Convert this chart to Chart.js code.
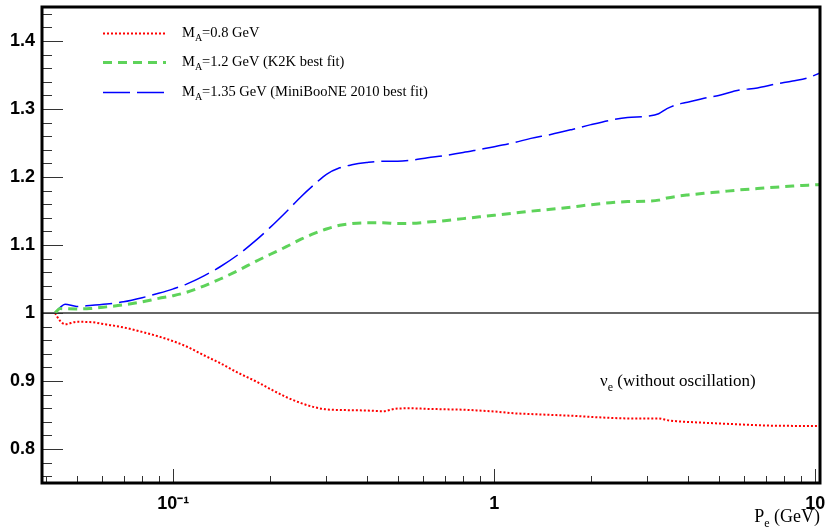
<!DOCTYPE html>
<html lang="en">
<head>
<meta charset="UTF-8" />
<title>Axial mass ratio vs electron momentum</title>
<script src="https://cdn.jsdelivr.net/npm/chart.js"></script>
<style>
  body { margin: 0; background: #fff; }
  #wrap { width: 827px; height: 529px; }
</style>
</head>
<body>
<div id="wrap"><canvas id="ratioChart" width="827" height="529"></canvas></div>
<script>
// electron momentum, GeV
const momentum = [
  0.0428, 0.0444, 0.046, 0.050, 0.055, 0.062, 0.070, 0.080, 0.090, 0.100,
  0.110, 0.125, 0.140, 0.160, 0.180, 0.200, 0.225, 0.250, 0.275, 0.300,
  0.330, 0.360, 0.400, 0.450, 0.500, 0.550, 0.620, 0.700, 0.800, 0.900,
  1.00, 1.15, 1.30, 1.50, 1.75, 2.00, 2.30, 2.60, 3.00, 3.25,
  3.45, 3.70, 4.00, 4.50, 5.00, 5.80, 6.60, 7.50, 8.50, 9.50, 10.34
];
// MA = 0.8 GeV
const ratioMA08 = [
  1.000, 0.9885, 0.9835, 0.9870, 0.9867, 0.9830, 0.9788, 0.9722, 0.9655, 0.9585,
  0.9507, 0.9375, 0.9262, 0.9115, 0.9000, 0.8885, 0.8763, 0.8675, 0.8615, 0.8582,
  0.8574, 0.8570, 0.8566, 0.8556, 0.8596, 0.8598, 0.8590, 0.8584, 0.8578, 0.8565,
  0.8552, 0.8525, 0.8514, 0.8502, 0.8488, 0.8472, 0.8458, 0.8450, 0.8450, 0.8450,
  0.8425, 0.8408, 0.8398, 0.8386, 0.8375, 0.8362, 0.8350, 0.8342, 0.8340, 0.8339, 0.8338
];
// MA = 1.2 GeV (K2K)
const ratioMA12 = [
  1.000, 1.0065, 1.0062, 1.0060, 1.0065, 1.0090, 1.0120, 1.0165, 1.0215, 1.0255,
  1.0305, 1.0400, 1.0500, 1.0630, 1.0755, 1.0860, 1.0975, 1.1085, 1.1170, 1.1235,
  1.1290, 1.1315, 1.1327, 1.1327, 1.1316, 1.1318, 1.1337, 1.1358, 1.1388, 1.1414,
  1.1437, 1.1468, 1.1497, 1.1525, 1.1560, 1.1593, 1.1622, 1.1638, 1.1645, 1.1660,
  1.1690, 1.1715, 1.1735, 1.1760, 1.1780, 1.1810, 1.1830, 1.1850, 1.1868, 1.1880, 1.1890
];
// MA = 1.35 GeV (MiniBooNE)
const ratioMA135 = [
  1.000, 1.008, 1.013, 1.0097, 1.0110, 1.0132, 1.0165, 1.0225, 1.0290, 1.0355,
  1.0425, 1.0550, 1.0680, 1.0865, 1.1060, 1.1255, 1.1490, 1.1710, 1.1890, 1.2040,
  1.2135, 1.2180, 1.2212, 1.2232, 1.2232, 1.2245, 1.2282, 1.2315, 1.2360, 1.2405,
  1.2445, 1.2505, 1.2568, 1.2625, 1.2700, 1.2770, 1.2835, 1.2875, 1.2895, 1.2930,
  1.3005, 1.3065, 1.3100, 1.3158, 1.3200, 1.3278, 1.3310, 1.3365, 1.3412, 1.3460, 1.3530
];

const xTickValues = [0.1, 1, 10];
const xTickLabels = ["10\u207B\u00B9", "1", "10"];
const yTickValues = [0.8, 0.9, 1, 1.1, 1.2, 1.3, 1.4];
const legendTexts = [
  ["M", "A", "=0.8 GeV"],
  ["M", "A", "=1.2 GeV (K2K best fit)"],
  ["M", "A", "=1.35 GeV (MiniBooNE 2010 best fit)"]
];

const X_MIN = 0.039, X_MAX = 10.34;
const Y_MIN = 0.75, Y_MAX = 1.45;

function toPoints(values) {
  return momentum.map((p, i) => ({ x: p, y: values[i] }));
}

// text with one subscript part: [base, sub, rest]
function drawSubText(ctx, x, y, parts, size, align) {
  const main = size + "px 'Liberation Serif', 'Times New Roman', serif";
  const small = Math.round(size * 0.68) + "px 'Liberation Serif', 'Times New Roman', serif";
  ctx.font = main;
  const w0 = ctx.measureText(parts[0]).width;
  const w2 = ctx.measureText(parts[2]).width;
  ctx.font = small;
  const w1 = ctx.measureText(parts[1]).width;
  let x0 = align === "right" ? x - (w0 + w1 + w2) : x;
  ctx.textAlign = "left";
  ctx.textBaseline = "alphabetic";
  ctx.fillStyle = "#000";
  ctx.font = main;
  ctx.fillText(parts[0], x0, y);
  ctx.font = small;
  ctx.fillText(parts[1], x0 + w0, y + size * 0.28);
  ctx.font = main;
  ctx.fillText(parts[2], x0 + w0 + w1, y);
}

const decorations = {
  id: "decorations",
  afterDraw(chart) {
    const { ctx, chartArea: a, scales } = chart;
    const x = scales.x, y = scales.y;
    ctx.save();

    // ticks inside the frame
    ctx.strokeStyle = "#333";
    ctx.lineWidth = 1;
    ctx.setLineDash([]);
    ctx.beginPath();
    for (let e = -2; e <= 1; e++) {
      for (let m = 1; m <= 9; m++) {
        const v = m * Math.pow(10, e);
        if (v < X_MIN || v > X_MAX) continue;
        const px = Math.round(x.getPixelForValue(v)) + 0.5;
        const len = m === 1 ? 14 : 7;
        ctx.moveTo(px, a.bottom);
        ctx.lineTo(px, a.bottom - len);
      }
    }
    for (let k = 38; k <= 72; k++) {
      const v = k * 0.02;
      const py = Math.round(y.getPixelForValue(v)) + 0.5;
      const len = k % 5 === 0 ? 21 : 10;
      ctx.moveTo(a.left, py);
      ctx.lineTo(a.left + len, py);
    }
    ctx.stroke();

    // frame
    ctx.strokeStyle = "#000";
    ctx.lineWidth = 3;
    ctx.strokeRect(a.left, a.top, a.right - a.left, a.bottom - a.top);

    // legend
    const rows = [33, 62, 92];
    chart.data.datasets.slice(0, 3).forEach((ds, i) => {
      ctx.strokeStyle = ds.borderColor;
      ctx.lineWidth = ds.borderWidth;
      ctx.setLineDash(ds.borderDash || []);
      ctx.beginPath();
      ctx.moveTo(103, rows[i] + 0.5);
      ctx.lineTo(166, rows[i] + 0.5);
      ctx.stroke();
      drawSubText(ctx, 182, rows[i] + 4, legendTexts[i], 14.5, "left");
    });
    ctx.setLineDash([]);

    // annotations
    drawSubText(ctx, 600, 386, ["\u03BD", "e", " (without oscillation)"], 17, "left");
    drawSubText(ctx, 820, 522, ["P", "e", " (GeV)"], 18, "right");

    ctx.restore();
  }
};

new Chart(document.getElementById("ratioChart"), {
  type: "line",
  data: {
    datasets: [
      {
        label: "MA=0.8 GeV",
        data: toPoints(ratioMA08),
        borderColor: "#ff0000",
        borderWidth: 2,
        borderDash: [2, 2],
      },
      {
        label: "MA=1.2 GeV (K2K best fit)",
        data: toPoints(ratioMA12),
        borderColor: "#5ed35a",
        borderWidth: 3,
        borderDash: [9, 6],
      },
      {
        label: "MA=1.35 GeV (MiniBooNE 2010 best fit)",
        data: toPoints(ratioMA135),
        borderColor: "#0000ff",
        borderWidth: 1.5,
        borderDash: [27, 7],
      },
      {
        label: "unity",
        data: [{ x: X_MIN, y: 1 }, { x: X_MAX, y: 1 }],
        borderColor: "#333",
        borderWidth: 1.5,
      },
    ],
  },
  options: {
    responsive: false,
    animation: false,
    devicePixelRatio: 1,
    layout: { padding: { top: 7, right: 7, left: 0, bottom: 0 } },
    elements: {
      point: { radius: 0 },
      line: { cubicInterpolationMode: "monotone", borderCapStyle: "butt" },
    },
    plugins: {
      legend: { display: false },
      tooltip: { enabled: false },
    },
    scales: {
      x: {
        type: "logarithmic",
        min: X_MIN,
        max: X_MAX,
        grid: { display: false, drawTicks: false },
        border: { display: false },
        afterBuildTicks: (s) => { s.ticks = xTickValues.map((v) => ({ value: v })); },
        afterFit: (s) => { s.height = 46; s.paddingLeft = 0; s.paddingRight = 0; },
        ticks: {
          autoSkip: false,
          maxRotation: 0,
          padding: 10,
          color: "#000",
          font: { family: "'Liberation Sans', Arial, sans-serif", size: 18, weight: "bold" },
          callback: (v) => {
            const i = xTickValues.findIndex((t) => Math.abs(t - v) < 1e-9);
            return i >= 0 ? xTickLabels[i] : "";
          },
        },
      },
      y: {
        min: Y_MIN,
        max: Y_MAX,
        grid: { display: false, drawTicks: false },
        border: { display: false },
        afterBuildTicks: (s) => { s.ticks = yTickValues.map((v) => ({ value: v })); },
        afterFit: (s) => { s.width = 42; s.paddingTop = 0; s.paddingBottom = 0; },
        ticks: {
          padding: 7,
          color: "#000",
          font: { family: "'Liberation Sans', Arial, sans-serif", size: 18, weight: "bold" },
          callback: (v) => String(Math.round(v * 10) / 10),
        },
      },
    },
  },
  plugins: [decorations],
});
</script>
</body>
</html>
